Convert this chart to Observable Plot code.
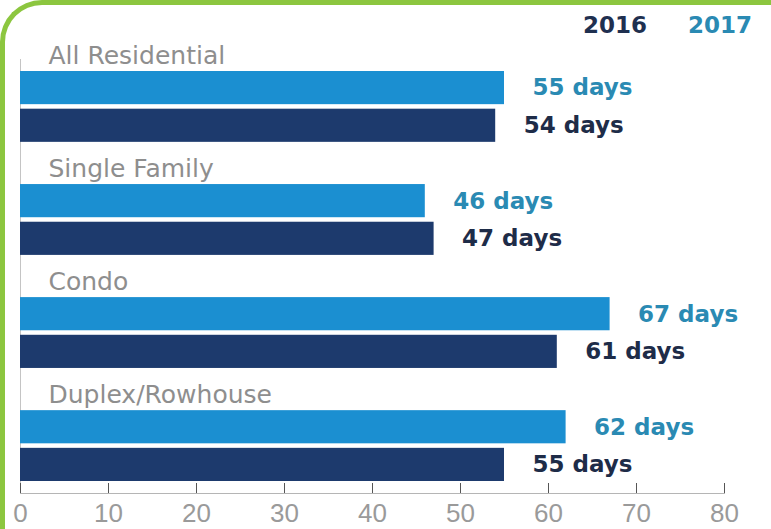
<!DOCTYPE html>
<html>
<head>
<meta charset="utf-8">
<script src="https://cdn.jsdelivr.net/npm/d3@7"></script>
<script src="https://cdn.jsdelivr.net/npm/@observablehq/plot@0.6"></script>
<style>
  html, body { margin: 0; padding: 0; background: #fff; }
  #wrap { position: relative; width: 771px; height: 529px; overflow: hidden; background: #fff; }
  #border { position: absolute; left: 0; top: 0; width: 800px; height: 600px; box-sizing: border-box;
            border-top: 5px solid #8cc63f; border-left: 5px solid #8cc63f; border-top-left-radius: 42px; pointer-events: none; }
  #legend { position: relative; height: 40px; font-family: "DejaVu Sans", sans-serif; font-weight: bold; font-size: 23px; }
  #legend span { position: absolute; top: 12px; }
  #chart { position: relative; }
  #chart svg { display: block; }
</style>
</head>
<body>
<div id="wrap">
  <div id="border"></div>
  <div id="legend"></div>
  <div id="chart"></div>
</div>
<script>
const categories = ["All Residential", "Single Family", "Condo", "Duplex/Rowhouse"];
const years = ["2017", "2016"];
const values2017 = [55, 46, 67, 62];
const values2016 = [54, 47, 61, 55];
const xTicks = [0, 10, 20, 30, 40, 50, 60, 70, 80];

const barColor = {"2017": "#1b8fd1", "2016": "#1d3a6d"};
const textColor = {"2017": "#2a8ab3", "2016": "#1e2c48"};
const legendColor = {"2016": "#1f3050", "2017": "#2a8ab3"};

// legend
const legend = document.getElementById("legend");
[["2016", 583], ["2017", 688]].forEach(([y, left]) => {
  const s = document.createElement("span");
  s.textContent = y;
  s.style.left = left + "px";
  s.style.color = legendColor[y];
  legend.appendChild(s);
});

const rows = categories.flatMap((c, i) => [
  {category: c, year: "2017", value: values2017[i]},
  {category: c, year: "2016", value: values2016[i]}
]);
const key = d => d.category + "|" + d.year;
const yDomain = categories.flatMap((c, i) =>
  i < categories.length - 1 ? [c + "|2017", c + "|2016", c + "|gap"] : [c + "|2017", c + "|2016"]);

const chart = Plot.plot({
  width: 771,
  height: 489,
  marginTop: 31,
  marginBottom: 48,
  marginLeft: 20,
  marginRight: 47,
  x: {domain: [0, 80], axis: null},
  y: {domain: yDomain, paddingInner: 0.12, paddingOuter: 0, round: false, axis: null},
  style: {background: "transparent", overflow: "visible"},
  marks: [
    Plot.ruleX([0], {stroke: "#c4c4c4", insetBottom: -12, insetTop: -12}),
    Plot.barX(rows, {x: "value", y: key, fill: d => barColor[d.year]}),
    Plot.text(rows, {
      x: "value", y: key, text: d => d.value + " days",
      dx: 28, textAnchor: "start",
      fill: d => textColor[d.year],
      fontFamily: "DejaVu Sans", fontWeight: "bold", fontSize: 23
    }),
    Plot.text(categories, {
      x: 0, y: d => d + "|2017", text: d => d,
      dx: 28, dy: -32, textAnchor: "start",
      fill: "#8e8e8e", fontFamily: "DejaVu Sans", fontSize: 25
    }),
    Plot.frame({anchor: "bottom", dy: 12, stroke: "#b5b5b5"}),
    Plot.axisX({
      anchor: "bottom", ticks: xTicks, tickFormat: d => String(d),
      tickSize: -10, dy: 12, tickPadding: 20, label: null,
      stroke: "#555", fill: "#9a9a9a",
      fontFamily: "Liberation Sans", fontSize: 26
    })
  ]
});
document.getElementById("chart").appendChild(chart);
</script>
</body>
</html>
